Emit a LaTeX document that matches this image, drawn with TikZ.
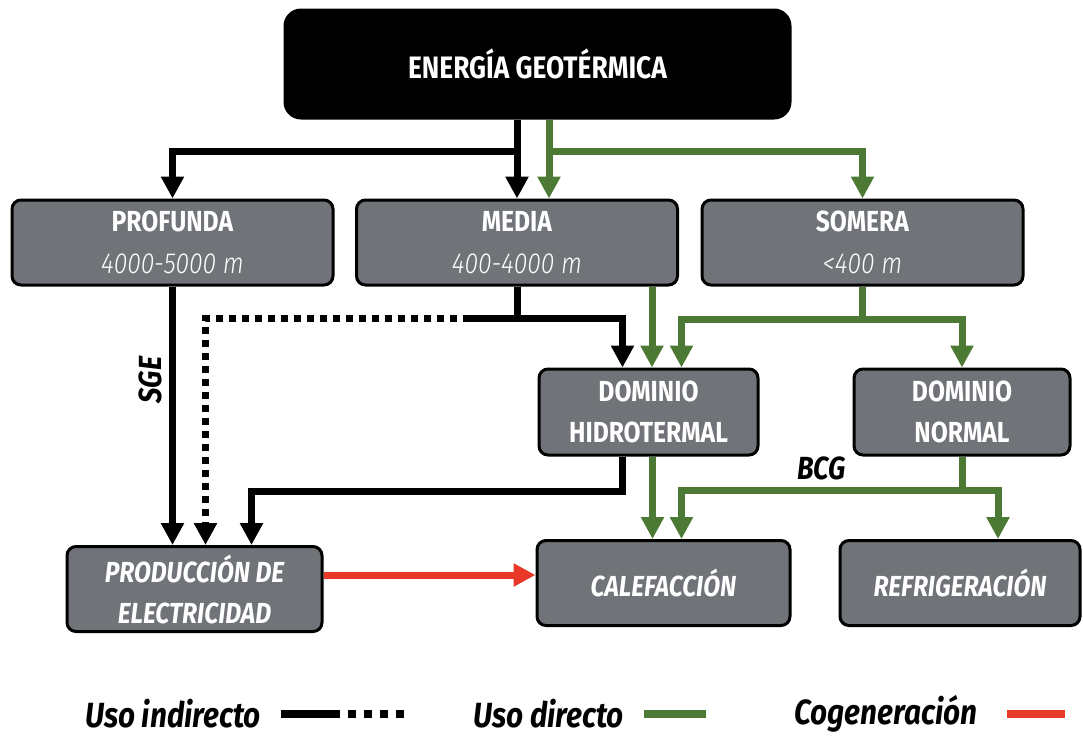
\documentclass[tikz,border=0pt]{standalone}
\usepackage{fontspec}
\setmainfont{Fira Sans}[FakeStretch=0.85]
\newfontfamily\thinFont{Fira Sans Light}[FakeStretch=0.85]
\usepackage{tikz}
\usetikzlibrary{arrows.meta,positioning,calc}
\definecolor{boxGray}{RGB}{112,115,119}
\definecolor{usoGreen}{RGB}{76,122,52}
\definecolor{cogRed}{RGB}{232,56,40}
\newcommand{\depthNode}[4]{\node[box, minimum width=321pt, minimum height=85pt] (#1) at (#2) {\textbf{#3}\\{\thinFont\itshape #4}};}
\newcommand{\useNode}[4]{\node[box, minimum width=#3, font=\fontsize{29}{41}\selectfont\bfseries\itshape] (#1) at (#2) {#4};}

\begin{document}
\begin{tikzpicture}[x=1pt, y=-1pt,
	box/.style={draw=black, line width=3pt, fill=boxGray, rounded corners=9pt, text=white,
		align=center, inner sep=0pt, minimum height=85pt, font=\fontsize{29}{42}\selectfont},
	topBox/.style={box, fill=black, rounded corners=16pt, minimum width=505pt, minimum height=108pt,
		font=\fontsize{31}{36}\selectfont\bfseries},
	ind/.style={line width=7pt, draw=black},
	indDot/.style={ind, dash pattern=on 7pt off 6pt},
	dir/.style={line width=7pt, draw=usoGreen},
	cog/.style={line width=7pt, draw=cogRed},
	headed/.style={-{Triangle[width=22pt,length=22pt]}},
	lbl/.style={inner sep=0pt, font=\fontsize{32}{36}\selectfont\bfseries\itshape},
	lgd/.style={inner sep=0pt, anchor=west, font=\fontsize{35}{38}\selectfont\bfseries\itshape}]
	\useasboundingbox (0,0) rectangle (1083,740);

	\node[topBox] (geo) at (537.5,64) {ENERGÍA GEOTÉRMICA};
	\depthNode{prof}{172.5,242.5}{PROFUNDA}{4000-5000 m}
	\depthNode{media}{517,242.5}{MEDIA}{400-4000 m}
	\depthNode{som}{862.5,242.5}{SOMERA}{<400 m}
	\node[box, minimum width=219pt, minimum height=86pt, font=\fontsize{29}{41}\selectfont\bfseries] (dh) at (648.5,412) {DOMINIO\\HIDROTERMAL};
	\node[box, minimum width=216pt, minimum height=86pt, font=\fontsize{29}{41}\selectfont\bfseries] (dn) at (962,412) {DOMINIO\\NORMAL};
	\useNode{prod}{194.5,589}{255pt}{PRODUCCIÓN DE\\ELECTRICIDAD}
	\useNode{cal}{663.5,583}{253pt}{CALEFACCIÓN}
	\useNode{ref}{960,583}{240pt}{REFRIGERACIÓN}

	% from the top box
	\path (geo.south -| media.north) coordinate (gK) ++(32,0) coordinate (gV);
	\draw[ind,headed] (gK) -- (media.north);
	\draw[ind,headed] (gK) -- ++(0,32) -| (prof.north);
	\draw[dir,headed] (gV) -- (gV |- media.north);
	\draw[dir,headed] (gV) -- ++(0,32) -| (som.north);

	% profunda and media
	\draw[ind,headed] (prof.south) -- (prof.south |- prod.north);
	\node[lbl, rotate=90] (sge) at (150,380) {SGE};
	\draw[ind] (media.south) -- ++(0,32) coordinate (mK);
	\draw[ind,headed] (mK) -| ([xshift=-26pt]dh.north);
	\draw[ind] (mK) -- ++(-47,0) coordinate (mDot);
	\draw[indDot,headed] (mDot) -| ([xshift=11pt]prod.north);
	\coordinate (mV) at ([xshift=135pt]media.south);
	\draw[dir,headed] (mV) -- (mV |- dh.north);

	% somera
	\draw[dir] (som.south) -- ++(0,33) coordinate (sV);
	\draw[dir,headed] (sV) -| ([xshift=33pt]dh.north);
	\draw[dir,headed] (sV) -| (dn.north);

	% dominios
	\draw[ind,headed] ([xshift=-26pt]dh.south) -- ++(0,35) -| ([xshift=57pt]prod.north);
	\coordinate (hV) at ([xshift=4pt]dh.south);
	\draw[dir,headed] (hV) -- (hV |- cal.north);
	\draw[dir] (dn.south) -- ++(0,34) coordinate (nV);
	\draw[dir,headed] (nV) -| ([xshift=18pt]cal.north) node[lbl, pos=0.25, above=7pt] (bcg) {BCG};
	\draw[dir,headed] (nV) -| ([xshift=38pt]ref.north);

	% cogeneracion
	\coordinate (pE) at ([yshift=14pt]prod.east);
	\draw[cog,headed] (pE) -- (pE -| cal.west);

	% legend
	\node[lgd] (lInd) at (85,714) {Uso indirecto};
	\draw[ind, line width=8pt] ([xshift=20pt]lInd.east) -- ++(59,0) coordinate (lIndEnd);
	\draw[indDot, line width=8pt, dash pattern=on 8pt off 8pt] (lIndEnd) ++(8,0) -- ++(62,0);
	\node[lgd] (lDir) at (473,714) {Uso directo};
	\draw[dir, line width=8pt] ([xshift=20pt]lDir.east) -- ++(62,0);
	\node[lgd] (lCog) at (794,714) {Cogeneración};
	\draw[cog, line width=8pt] ([xshift=30pt]lCog.east) -- ++(58,0);
\end{tikzpicture}
\end{document}
